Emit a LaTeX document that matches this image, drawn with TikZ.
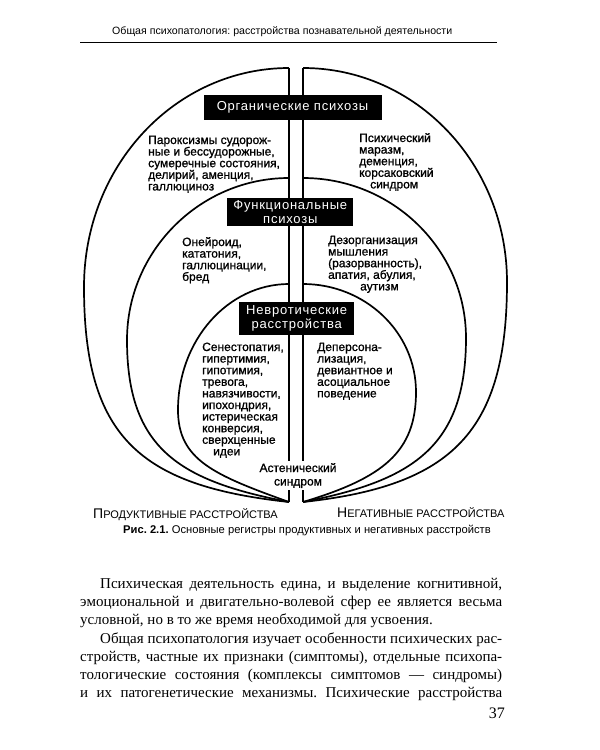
\documentclass[tikz,border=0pt]{standalone}
\usepackage{fontspec}
\setmainfont{Liberation Serif}
\setsansfont{Liberation Sans}
\newfontfamily\dsans[FakeBold=1]{Liberation Sans}
\newfontfamily\hsans{Liberation Sans}
\newfontfamily\boxfont[LetterSpace=6]{Liberation Sans}
\newcommand\blocktext[1]{\parbox[t]{160pt}{\raggedright\dsans\fontsize{12}{11.6}\selectfont #1}}
\newcommand\bodyline[2]{\makebox[#1][s]{\fontsize{15}{18}\selectfont #2}}
\begin{document}
\frenchspacing
\begin{tikzpicture}[x=1pt,y=-1pt,
  rim/.style={line width=1.7pt, line join=round},
  blk/.style={fill=black, text=white, inner sep=0pt, align=center,
    font=\boxfont\fontsize{13}{14}\selectfont},
  lbl/.style={inner sep=0pt, anchor=base west},
  bodytxt/.style={inner sep=0pt, anchor=base west, font=\fontsize{15}{18}\selectfont}]
\useasboundingbox (0,0) rectangle (600,750);
\fill[white] (0,0) rectangle (600,750);

% header
\node[lbl, font=\hsans\fontsize{10.6}{13}\selectfont] (hdr) at (112,34)
  {Общая психопатология: расстройства познавательной деятельности};
\coordinate (ruleL) at (80,42);
\coordinate (ruleR) at (497,42);
\draw[line width=1pt] (ruleL) -- (ruleR);

% left halves
\draw[rim] (289,68) .. controls (176,68) and (84,165) .. (84,287)
  .. controls (84,437) and (140,486) .. (289,502);
\draw[rim] (289,178) .. controls (200,178) and (127,251) .. (127,340)
  .. controls (127,450) and (181,481) .. (289,502);
\draw[rim] (289,284) .. controls (228,284) and (178,340) .. (178,410)
  .. controls (178,460) and (214,475) .. (289,502);
% right halves
\draw[rim] (303,68) .. controls (416,68) and (507,164) .. (507,282)
  .. controls (507,432) and (452,486) .. (303,502);
\draw[rim] (303,178) .. controls (393,178) and (466,250) .. (466,338)
  .. controls (466,448) and (411,481) .. (303,502);
\draw[rim] (303,284) .. controls (365,284) and (416,332) .. (416,392)
  .. controls (416,452) and (383,478) .. (303,502);

% dividing lines
\coordinate (lt) at (289,68);
\coordinate (lm) at (289,461);
\coordinate (lm2) at (289,490);
\coordinate (lb) at (289,502);
\coordinate (rt) at (303,68);
\coordinate (rm) at (303,461);
\coordinate (rm2) at (303,490);
\coordinate (rb) at (303,502);
\draw[rim] (lt) -- (lm);
\draw[rim] (lm2) -- (lb);
\draw[rim] (rt) -- (rm);
\draw[rim] (rm2) -- (rb);

% black labels
\node[blk, minimum width=178pt, minimum height=25pt] (org) at (292.5,107.5)
  {Органические психозы};
\node[blk, minimum width=126pt, minimum height=28pt] (fun) at (290.3,212.2)
  {Функциональные\\психозы};
\node[blk, minimum width=115pt, minimum height=33pt] (nev) at (296.7,318.3)
  {Невротические\\расстройства};

% text blocks
\node[lbl] (orgL) at (148,144) {\blocktext{Пароксизмы судорож-\\ные и бессудорожные,\\сумеречные состояния,\\делирий, аменция,\\галлюциноз}};
\node[lbl] (orgR) at (359,142) {\blocktext{Психический\\маразм,\\деменция,\\корсаковский\\\hspace*{11pt}синдром}};
\node[lbl] (funL) at (182,246) {\blocktext{Онейроид,\\кататония,\\галлюцинации,\\бред}};
\node[lbl] (funR) at (328,244) {\blocktext{Дезорганизация\\мышления\\(разорванность),\\апатия, абулия,\\\hspace*{32pt}аутизм}};
\node[lbl] (nevL) at (202,351) {\blocktext{Сенестопатия,\\гипертимия,\\гипотимия,\\тревога,\\навязчивости,\\ипохондрия,\\истерическая\\конверсия,\\сверхценные\\\hspace*{11pt}идеи}};
\node[lbl] (nevR) at (317,351) {\blocktext{Деперсона-\\лизация,\\девиантное и\\асоциальное\\поведение}};
\node[inner sep=0pt, anchor=base] (ast) at (298,472)
  {\parbox[t]{80pt}{\centering\dsans\fontsize{12}{13.5}\selectfont Астенический\\синдром}};

% bottom labels
\node[lbl] (prod) at (93,518) {\hsans{\fontsize{14}{14}\selectfont П}{\fontsize{11}{12}\selectfont РОДУКТИВНЫЕ РАССТРОЙСТВА}};
\node[lbl] (neg) at (337,517) {\hsans{\fontsize{14}{14}\selectfont Н}{\fontsize{11}{12}\selectfont ЕГАТИВНЫЕ РАССТРОЙСТВА}};

% caption
\node[lbl, font=\hsans\fontsize{11.2}{13}\selectfont] (cap) at (123,533)
  {\textbf{Рис. 2.1.} Основные регистры продуктивных и негативных расстройств};

% body text
\node[bodytxt] (b1) at (100,588) {\bodyline{402pt}{Психическая деятельность едина, и выделение когнитивной,}};
\node[bodytxt] (b2) at (80,606) {\bodyline{422pt}{эмоциональной и двигательно-волевой сфер ее является весьма}};
\node[bodytxt] (b3) at (80,624) {условной, но в то же время необходимой для усвоения.};
\node[bodytxt] (b4) at (100,643) {\bodyline{402pt}{Общая психопатология изучает особенности психических рас-}};
\node[bodytxt] (b5) at (80,661) {\bodyline{422pt}{стройств, частные их признаки (симптомы), отдельные психопа-}};
\node[bodytxt] (b6) at (80,679) {\bodyline{422pt}{тологические состояния (комплексы симптомов~— синдромы)}};
\node[bodytxt] (b7) at (80,697) {\bodyline{422pt}{и их патогенетические механизмы. Психические расстройства}};
\node[inner sep=0pt, anchor=base east, font=\fontsize{16}{18}\selectfont] (pg) at (505,718) {37};
\end{tikzpicture}
\end{document}
